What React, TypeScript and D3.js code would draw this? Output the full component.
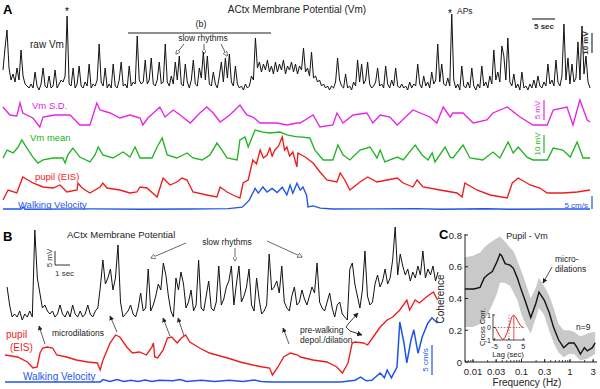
import * as d3 from 'd3';

const FONT = 'Liberation Sans, Arial, sans-serif';

// ---------- Panel A (about 128 s of recording) ----------
const durA = 127.6;
// raw Vm, mV above rest, evenly sampled over durA
const rawVmA = [
  11, 22, 31, 12, 6, 9, 5, 12, 6, 21,
  8, 4, 3, 2, 4, 2, 10, 3, 1, 4,
  12, 3, 2, 8, 2, 3, 11, 2, 4, 6,
  5, 8, 38, 4, 3, 12, 2, 4, 13, 3,
  2, 5, 3, 14, 2, 4, 3, 6, 24, 5,
  3, 12, 2, 4, 2, 14, 3, 2, 6, 15,
  3, 4, 2, 13, 3, 5, 4, 28, 6, 4,
  5, 16, 4, 6, 17, 4, 3, 6, 15, 4,
  5, 24, 5, 3, 8, 4, 15, 6, 18, 4,
  3, 14, 5, 2, 6, 16, 4, 3, 12, 7,
  20, 6, 18, 4, 3, 10, 4, 2, 8, 15,
  5, 17, 7, 19, 5, 3, 13, 4, 2, 3,
  1, 4, 2, 3, 8, 6, 27, 12, 15, 10,
  14, 11, 16, 10, 13, 9, 15, 10, 14, 11,
  16, 9, 13, 11, 15, 10, 14, 9, 13, 11,
  22, 10, 12, 8, 20, 7, 8, 5, 6, 3,
  4, 2, 3, 1, 3, 2, 5, 17, 6, 3,
  2, 9, 2, 3, 1, 5, 3, 16, 5, 14,
  4, 6, 15, 4, 2, 3, 5, 12, 3, 4,
  2, 13, 4, 2, 6, 3, 12, 3, 2, 4,
  2, 3, 1, 5, 2, 4, 3, 14, 4, 2,
  8, 3, 5, 2, 10, 4, 6, 24, 5, 14,
  4, 3, 7, 3, 39, 6, 2, 4, 1, 13,
  3, 2, 5, 2, 12, 3, 1, 4, 2, 13,
  3, 5, 2, 8, 4, 21, 6, 10, 5, 23,
  18, 6, 27, 5, 3, 9, 2, 4, 1, 10,
  2, 3, 1, 4, 2, 6, 2, 8, 3, 2,
  5, 3, 14, 4, 6, 3, 16, 5, 3, 8,
  34, 6, 17, 4, 14, 5, 7, 25, 6, 33,
  9, 18, 5, 2,
];

// [sec, mV]
const vmSdA: [number, number][] = [
  [0, 5.25], [1.5, 3.25], [3, 3], [3.7, 6.25], [4.3, 3.75], [6.5, 2.5], [8, 0.25], [8.7, 2.75],
  [11.3, 3.25], [14.6, 3.25], [16.7, 0.75], [18.9, 0.75], [20.4, 6.25], [21.1, 4.5], [23.3, 3.75],
  [25.4, 2.5], [27.6, 3.25], [29.8, 2.5], [30.4, 0.75], [31.5, 2.5], [34.1, 5.25], [35.2, 2.75],
  [37, 4.5], [38.5, 3.25], [40.7, 1.25], [42.8, 3.75], [44.3, 5.25], [45.7, 3.75], [47.2, 1.5],
  [49.3, 3.25], [51.5, 5.75], [53, 3.25], [54.3, 2.75], [55.9, 1.25], [59.6, 1.25], [61.7, 0.75],
  [63.9, 1.25], [64.6, 1.25], [67.4, 3.25], [68.9, 0.25], [71.7, 0.75], [72.6, 3.75], [73.9, 1.25],
  [76.1, 3.25], [79.1, 3.75], [80.4, 1.25], [82, 3.25], [84.1, 2.75], [85.7, 0.75], [89.1, 4.5],
  [92.8, 2.75], [94.3, 1.25], [95.7, 5.25], [97.2, 2.75], [97.8, 3.75], [100, 3.75], [102.2, 1.25],
  [105.2, 2], [106.5, 3.75], [109.6, 5.25], [112.4, 2.75], [115.2, 0.75], [118.3, 0.75], [119.6, 4.5],
  [122.6, 5.25], [123.9, 0.75], [125.4, 7], [127, 2], [127.6, 1.5],
];

// [sec, mV]
const vmMeanA: [number, number][] = [
  [0, 3.9], [0.9, 8.3], [2.2, 6.7], [3.3, 10], [4.1, 13.9], [5.2, 9.4], [6.5, 4.4], [7.6, 1.1],
  [8.7, 2.8], [10.9, 3.9], [13, 3.9], [13.5, 1.1], [14.1, 5.6], [15.2, 9.4], [16.7, 4.4], [18.9, 1.7],
  [20, 5.6], [20.7, 10], [21.7, 5.6], [23.9, 3.9], [26.1, 7.2], [27.6, 4.4], [28.7, 10], [29.8, 3.9],
  [32.4, 3.9], [33.5, 10], [34.6, 15], [35.7, 5.6], [37.8, 3.9], [40, 6.7], [41.3, 3.9], [43.3, 2.8],
  [45, 5.6], [46.5, 12.2], [47.6, 8.3], [48.7, 3.9], [50.9, 2.8], [51.5, 13.9], [52.6, 15.6],
  [53.3, 10], [54.8, 19.4], [56.5, 18.3], [58, 17.8], [60.2, 18.3], [61.7, 16.7], [63.9, 15.6],
  [64.6, 15.6], [66.7, 15], [67.8, 8.3], [69.6, 2.8], [71.7, 2.8], [72.8, 11.1], [73.9, 5.6],
  [75.4, 2.8], [77.6, 8.3], [79.8, 10], [81.3, 3.9], [82, 8.3], [83, 1.7], [85.7, 4.4], [87, 2.8],
  [89.6, 11.1], [91.1, 5.6], [92.4, 2.8], [93.3, 6.7], [93.9, 1.7], [96.1, 10], [97.2, 4.4],
  [97.8, 3.9], [100, 11.1], [101.5, 3.9], [104.3, 2.8], [106.5, 7.2], [108, 3.9], [109.8, 12.8],
  [110.9, 6.7], [112, 10], [113.9, 4.4], [115.2, 2.8], [118.3, 2.8], [119.6, 9.4], [121.7, 8.3],
  [123.3, 4.4], [124.8, 12.8], [126.1, 3.9], [127.6, 3.9],
];

// [sec, % change]
const pupilA: [number, number][] = [
  [0, 0], [1.1, 5], [3, 3.5], [4.3, 11.5], [5.4, 10], [6.5, 8.5], [8.7, 6.5], [10.9, 6], [12.4, 7.5],
  [13.9, 4], [16.1, 5], [16.3, 8.5], [17.2, 6], [18.9, 3.5], [21.1, 6.5], [21.7, 8.5], [22.6, 6],
  [25.4, 5], [27.6, 3.5], [29.1, 4], [29.8, 6.5], [31.3, 6], [33.5, 1.5], [34.8, 11], [36.3, 7.5],
  [37.8, 9], [38.9, 11], [40, 10], [41.3, 4], [44.3, 2.5], [46.5, 1.5], [47.2, 6.5], [48.7, 4],
  [50, 2.5], [51.5, 1], [52.2, 8.5], [53.3, 10], [54.3, 20], [55.1, 18], [55.9, 25], [56.6, 21],
  [57.4, 22.5], [58, 26], [58.5, 22], [59.1, 25], [59.9, 27], [60.7, 31.5], [61.2, 25], [61.7, 26.5],
  [62.3, 22], [63, 24], [63.9, 16.5], [64.1, 23.5], [65.7, 21.5], [67.4, 18.5], [68.9, 14], [70.4, 10],
  [72.6, 9], [73.3, 13.5], [74.3, 10], [75.4, 5], [77.6, 9], [79.3, 11.5], [81.3, 9], [83.5, 10],
  [85.7, 11], [87, 8.5], [89.1, 6.5], [90, 10], [91.3, 6.5], [95, 5], [98.7, 3.5], [99.8, 1.5],
  [100.4, 8.5], [103, 5], [105.9, 2.5], [109.6, 1], [110.7, 8.5], [112, 11], [114.6, 7.5], [116.7, 6],
  [118.3, 3.5], [121.7, 3.5], [124.8, 4], [127.6, 5],
];

// [sec, cm/s]
const walkA: [number, number][] = [
  [0, 0.4], [4, 0.4], [4.3, 1.2], [4.8, 0.3], [20, 0.5], [30, 0.3], [40, 0.4], [49, 0.6], [52, 1.2],
  [53.5, 4], [54.8, 9], [55.5, 7], [56.5, 9.6], [57.4, 7.5], [58.5, 9], [59.6, 7.3], [60.7, 9.5],
  [61.7, 6.3], [62.4, 10.4], [63, 7], [63.9, 11.2], [64.6, 8.3], [65.2, 9.6], [66, 6.2], [66.3, 1.3],
  [67.4, 1.7], [69, 0.8], [71.7, 0.4], [80, 0.5], [90, 0.6], [95, 0.3], [105, 0.5], [110, 0.3],
  [120, 0.4], [127.6, 0.4],
];

// ---------- Panel B (about 31 s) ----------
const t0B = 0.15;
const dtB = 0.18;
// raw Vm, mV above rest, one sample every dtB seconds
const rawVmB = [
  11, 5, 1, 2, 1, 3, 0, 2, 1, 3,
  1, 30, 14, 9, 4, 5, 3, 2, 3, 1,
  2, 5, 2, 1, 3, 1, 5, 2, 1, 3,
  1, 2, 5, 2, 1, 3, 4, 11, 20, 12,
  14, 17, 10, 14, 25, 6, 1, 2, 3, 5,
  2, 1, 4, 9, 3, 4, 17, 3, 5, 8,
  12, 10, 19, 15, 8, 3, 1, 14, 10, 16,
  12, 4, 6, 10, 3, 5, 20, 4, 3, 8,
  13, 4, 3, 6, 18, 5, 7, 11, 13, 18,
  5, 12, 18, 6, 8, 11, 17, 5, 3, 14,
  7, 2, 3, 5, 22, 10, 11, 13, 9, 18,
  6, 4, 3, 8, 11, 5, 6, 10, 7, 5,
  8, 11, 9, 19, 6, 4, 3, 6, 9, 4,
  1, 5, 6, 2, 1, 0, 17, 19, 12, 8,
  4, 10, 23, 8, 5, 6, 12, 15, 11, 13,
  17, 12, 14, 20, 31, 15, 22, 18, 15, 17,
  13, 16, 14, 18, 15, 23, 14, 17, 15, 18,
  13, 16,
];

// [sec, % change]
const pupilB: [number, number][] = [
  [0, 10], [0.9, 9], [1.6, 6.5], [2, 3.5], [2.3, 4], [2.5, 11], [2.7, 13.5], [3, 14], [3.4, 13.5],
  [3.7, 10], [4.4, 9], [5.1, 7.5], [5.9, 6.5], [6.6, 6], [6.8, 2.5], [7, 7.5], [7.3, 12.5], [7.5, 16],
  [7.9, 20], [8.2, 19], [8.7, 14], [9.1, 11], [9.6, 11.5], [10.1, 10], [10.5, 14], [10.6, 16], [10.7, 9],
  [10.9, 8.5], [11.3, 12.5], [11.6, 18.5], [11.9, 19], [12.3, 16], [12.6, 18.5], [12.9, 20], [13.2, 16.5],
  [13.9, 13.5], [14.6, 11], [15.9, 8.5], [16.8, 6.5], [17.7, 5], [18.4, 4], [18.9, 3.5], [19.1, 0],
  [19.5, 4], [19.9, 9], [20.4, 11], [20.9, 10], [21.1, 9], [22, 7.5], [23, 6.5], [23.7, 4], [24.1, 1],
  [24.5, 6], [24.8, 16], [25, 16.5], [25.6, 16], [25.9, 15], [26.3, 19], [26.8, 24], [27.3, 27.5],
  [27.7, 29], [28.2, 32.5], [28.7, 37.5], [28.9, 32.5], [29.3, 37.5], [29.6, 36], [30.1, 39],
  [30.6, 41.5], [30.9, 37.5],
];

// [sec, cm/s]
const walkB: [number, number][] = [
  [0, 0], [6.8, 0], [7, 0.4], [7.5, 0.1], [8, 0.4], [8.5, 0.1], [9, 0.3], [9.5, 0.1], [10, 0.35],
  [10.5, 0.1], [11, 0.3], [12, 0.2], [12.5, 0.4], [13, 0.1], [14, 0.3], [15, 0.1], [16, 0.3], [17, 0.1],
  [17.8, 0.35], [18.3, 0.1], [19, 0], [24, 0], [25, 0.3], [25.4, 0.8], [25.8, 0.2], [26.2, 0.3],
  [26.8, 1.5], [27.1, 0.7], [27.3, 2], [27.6, 0.7], [28, 2.5], [28.2, 10], [28.5, 6.5], [28.7, 3.2],
  [29, 7], [29.2, 8.7], [29.5, 4.8], [29.8, 7.5], [30.2, 9.8], [30.5, 10.7], [30.9, 9.8],
];

// ---------- Panel C ----------
// [Hz, coherence]
const cohMean: [number, number][] = [
  [0.0068, 0.46], [0.0105, 0.46], [0.014, 0.47], [0.017, 0.53], [0.02, 0.55], [0.025, 0.57],
  [0.031, 0.63], [0.036, 0.68], [0.039, 0.67], [0.046, 0.62], [0.058, 0.61], [0.068, 0.59],
  [0.082, 0.53], [0.095, 0.47], [0.121, 0.38], [0.155, 0.28], [0.198, 0.37], [0.229, 0.44],
  [0.294, 0.39], [0.374, 0.31], [0.456, 0.22], [0.58, 0.14], [0.74, 0.09], [0.95, 0.12], [1.21, 0.12],
  [1.4, 0.09], [1.64, 0.05], [1.98, 0.09], [2.27, 0.07], [2.9, 0.09], [3.3, 0.12],
];
// [Hz, lower, upper]
const cohBand: [number, number, number][] = [
  [0.0068, 0.22, 0.66], [0.01, 0.22, 0.67], [0.014, 0.24, 0.69], [0.017, 0.26, 0.72], [0.02, 0.3, 0.74],
  [0.025, 0.36, 0.76], [0.031, 0.43, 0.78], [0.036, 0.5, 0.79], [0.045, 0.5, 0.76], [0.058, 0.48, 0.72],
  [0.068, 0.44, 0.7], [0.082, 0.39, 0.64], [0.1, 0.3, 0.57], [0.121, 0.24, 0.5], [0.155, 0.18, 0.4],
  [0.198, 0.28, 0.47], [0.229, 0.34, 0.53], [0.29, 0.3, 0.48], [0.37, 0.2, 0.42], [0.46, 0.12, 0.34],
  [0.58, 0.06, 0.24], [0.74, 0.03, 0.2], [0.95, 0.05, 0.2], [1.21, 0.05, 0.19], [1.64, 0.01, 0.16],
  [2.27, 0.02, 0.18], [3.3, 0.05, 0.19],
];
const freqTicks = [0.01, 0.03, 0.1, 0.3, 1, 3];
const cohTicks = [0, 0.2, 0.4, 0.6, 0.8];

// inset cross-correlation, [lag sec, r]
const xcorr: [number, number][] = [
  [-5, 0], [-4.5, -0.1], [-4, -0.35], [-3, -0.75], [-2.3, -0.95], [-1.5, -0.85], [-0.8, -0.5],
  [0, 0.05], [0.5, 0.5], [1, 0.85], [1.7, 0.98], [2.3, 0.85], [3, 0.55], [4, 0.15], [5, 0],
];
const lagTicks = [-5, 0, 5];
const xcTicks = [-1, 0, 1];
const peakLag = 1.7;

const BLACK = '#121212';
const MAGENTA = '#e524e5';
const GREEN = '#22b422';
const RED = '#ee1c1c';
const BLUE = '#1f55e8';
const LW = 1.35;

export default function App() {
  // panel A scales
  const xA = d3.scaleLinear().domain([0, durA]).range([3, 590]);
  const yRawA = d3.scaleLinear().domain([0, 10]).range([92, 72]);
  const ySdA = d3.scaleLinear().domain([0, 5]).range([128, 108]);
  const yMeanA = d3.scaleLinear().domain([0, 10]).range([165, 147]);
  const yPupA = d3.scaleLinear().domain([0, 10]).range([200, 180]);
  const yWalkA = d3.scaleLinear().domain([0, 5]).range([210, 198]);

  // panel B scales
  const xB = d3.scaleLinear().domain([0, 31]).range([5, 439]);
  const yRawB = d3.scaleLinear().domain([0, 5]).range([320, 305]);
  const yPupB = d3.scaleLinear().domain([0, 10]).range([375, 355]);
  const yWalkB = d3.scaleLinear().domain([0, 5]).range([382, 352]);

  // panel C scales
  const xC = d3.scaleLog().domain([0.00684, 3.6]).range([465, 597]);
  const yC = d3.scaleLinear().domain([0, 0.8]).range([362, 235]);
  const xIn = d3.scaleLinear().domain([-5.6, 5.6]).range([493, 525]);
  const yIn = d3.scaleLinear().domain([-1, 1]).range([340, 315]);

  const rawLineA = d3
    .line<number>()
    .x((_, i) => xA((i * durA) / (rawVmA.length - 1)))
    .y((d) => yRawA(d));
  const rawLineB = d3
    .line<number>()
    .x((_, i) => xB(t0B + i * dtB))
    .y((d) => yRawB(d));
  const pairLine = (
    xs: d3.ScaleContinuousNumeric<number, number>,
    ys: d3.ScaleContinuousNumeric<number, number>
  ) =>
    d3
      .line<[number, number]>()
      .x((d) => xs(d[0]))
      .y((d) => ys(d[1]));

  const band = d3
    .area<[number, number, number]>()
    .x((d) => xC(d[0]))
    .y0((d) => yC(d[1]))
    .y1((d) => yC(d[2]));

  const minorTicks = xC.ticks(20).filter((t) => t >= 0.007 && t <= 3.5);

  const txt = (props: any, s: string) => (
    <text fontFamily={FONT} {...props}>
      {s}
    </text>
  );

  return (
    <svg
      width={600}
      height={389}
      style={{ position: 'absolute', left: 0, top: 0, background: 'white' }}
    >
      <defs>
        <marker id="openHead" viewBox="0 0 10 10" refX="9" refY="5" markerWidth="6" markerHeight="6" orient="auto">
          <path d="M0,0 L10,5 L0,10 z" fill="white" stroke="#333" strokeWidth="1.3" />
        </marker>
        <marker id="solidHead" viewBox="0 0 10 10" refX="9" refY="5" markerWidth="6" markerHeight="6" orient="auto">
          <path d="M0,0 L10,5 L0,10 z" fill="#222" />
        </marker>
      </defs>

      {/* ===== Panel A ===== */}
      {txt({ x: 3, y: 14, fontSize: 13, fontWeight: 'bold' }, 'A')}
      {txt({ x: 297, y: 13, fontSize: 10, textAnchor: 'middle', fill: '#222' }, 'ACtx Membrane Potential (Vm)')}
      {txt({ x: 30, y: 48, fontSize: 10, fill: '#222' }, 'raw Vm')}
      {txt({ x: 67, y: 15, fontSize: 10, textAnchor: 'middle' }, '*')}
      {txt({ x: 448, y: 17, fontSize: 10 }, '*')}
      {txt({ x: 457, y: 14, fontSize: 8.5, fill: '#222' }, 'APs')}
      {txt({ x: 201, y: 27, fontSize: 9, textAnchor: 'middle', fill: '#222' }, '(b)')}
      <line x1={128} x2={271} y1={33} y2={33} stroke="#222" strokeWidth={1.2} />
      {txt({ x: 203, y: 41, fontSize: 8.5, textAnchor: 'middle', fill: '#222' }, 'slow rhythms')}
      <line x1={184} y1={44} x2={176} y2={54} stroke="#333" strokeWidth={0.8} markerEnd="url(#openHead)" />
      <line x1={204} y1={44} x2={204} y2={54} stroke="#333" strokeWidth={0.8} markerEnd="url(#openHead)" />
      <line x1={221} y1={44} x2={227} y2={56} stroke="#333" strokeWidth={0.8} markerEnd="url(#openHead)" />

      <path d={rawLineA(rawVmA) ?? ''} fill="none" stroke={BLACK} strokeWidth={1} />

      {/* scale bars A */}
      <line x1={532} x2={555} y1={19} y2={19} stroke="#333" strokeWidth={1.2} />
      {txt({ x: 544, y: 29, fontSize: 8, textAnchor: 'middle', fontWeight: 'bold', fill: '#333' }, '5 sec')}
      <line x1={592} x2={592} y1={33} y2={53} stroke="#333" strokeWidth={1.2} />
      {txt({ x: 0, y: 0, fontSize: 8, textAnchor: 'middle', fontWeight: 'bold', fill: '#333', transform: 'translate(588,43) rotate(-90)' }, '10 mV')}

      <path d={pairLine(xA, ySdA)(vmSdA) ?? ''} fill="none" stroke={MAGENTA} strokeWidth={LW} />
      {txt({ x: 32, y: 109, fontSize: 9.5, fill: MAGENTA }, 'Vm S.D.')}
      <line x1={544} x2={544} y1={100} y2={120} stroke={MAGENTA} strokeWidth={1.2} />
      {txt({ x: 0, y: 0, fontSize: 8, textAnchor: 'middle', fill: MAGENTA, transform: 'translate(540,110) rotate(-90)' }, '5 mV')}

      <path d={pairLine(xA, yMeanA)(vmMeanA) ?? ''} fill="none" stroke={GREEN} strokeWidth={LW} />
      {txt({ x: 30, y: 141, fontSize: 9.5, fill: GREEN }, 'Vm mean')}
      <line x1={544} x2={544} y1={135} y2={153} stroke={GREEN} strokeWidth={1.2} />
      {txt({ x: 0, y: 0, fontSize: 8, textAnchor: 'middle', fill: GREEN, transform: 'translate(540,144) rotate(-90)' }, '10 mV')}

      <path d={pairLine(xA, yPupA)(pupilA) ?? ''} fill="none" stroke={RED} strokeWidth={LW} />
      {txt({ x: 35, y: 180, fontSize: 9.5, fill: RED }, 'pupil (EIS)')}

      <path d={pairLine(xA, yWalkA)(walkA) ?? ''} fill="none" stroke={BLUE} strokeWidth={LW} />
      {txt({ x: 18, y: 208, fontSize: 9.5, fill: BLUE }, 'Walking Velocity')}
      <line x1={592} x2={592} y1={196} y2={209} stroke={BLUE} strokeWidth={1.2} />
      {txt({ x: 588, y: 208, fontSize: 8, textAnchor: 'end', fill: BLUE }, '5 cm/s')}

      {/* ===== Panel B ===== */}
      {txt({ x: 3, y: 241, fontSize: 13, fontWeight: 'bold' }, 'B')}
      {txt({ x: 67, y: 238, fontSize: 9.5, fill: '#222' }, 'ACtx Membrane Potential')}
      {txt({ x: 227, y: 245, fontSize: 8.5, textAnchor: 'middle', fill: '#222' }, 'slow rhythms')}
      <line x1={186} y1={243} x2={151} y2={258} stroke="#444" strokeWidth={0.8} markerEnd="url(#openHead)" />
      <line x1={235} y1={248} x2={235} y2={261} stroke="#444" strokeWidth={0.8} markerEnd="url(#openHead)" />
      <line x1={267} y1={241} x2={302} y2={257} stroke="#444" strokeWidth={0.8} markerEnd="url(#openHead)" />

      <line x1={55} x2={55} y1={251} y2={265} stroke="#333" strokeWidth={1} />
      <line x1={55} x2={70} y1={265} y2={265} stroke="#333" strokeWidth={1} />
      {txt({ x: 0, y: 0, fontSize: 8, textAnchor: 'middle', fill: '#333', transform: 'translate(52,258) rotate(-90)' }, '5 mV')}
      {txt({ x: 55, y: 276, fontSize: 8, fill: '#333' }, '1 sec')}

      <path d={rawLineB(rawVmB) ?? ''} fill="none" stroke={BLACK} strokeWidth={1} />

      {txt({ x: 52, y: 336, fontSize: 8.5, fill: '#222' }, 'microdilations')}
      <line x1={45} y1={344} x2={39} y2={326} stroke="#333" strokeWidth={0.8} markerEnd="url(#solidHead)" />
      <line x1={117} y1={332} x2={110} y2={316} stroke="#333" strokeWidth={0.8} markerEnd="url(#solidHead)" />
      <line x1={170} y1={336} x2={163} y2={318} stroke="#333" strokeWidth={0.8} markerEnd="url(#solidHead)" />
      <line x1={184} y1={336} x2={178} y2={318} stroke="#333" strokeWidth={0.8} markerEnd="url(#solidHead)" />
      <line x1={289} y1={344} x2={283} y2={328} stroke="#333" strokeWidth={0.8} markerEnd="url(#solidHead)" />

      <path d={pairLine(xB, yPupB)(pupilB) ?? ''} fill="none" stroke={RED} strokeWidth={LW} />
      {txt({ x: 6, y: 338, fontSize: 10, fill: RED }, 'pupil')}
      {txt({ x: 10, y: 351, fontSize: 10, fill: RED }, '(EIS)')}

      {txt({ x: 300, y: 333, fontSize: 8.5, fill: '#222' }, 'pre-walking')}
      {txt({ x: 300, y: 343, fontSize: 8.5, fill: '#222' }, 'depol./dilation')}
      <polyline points="349,323 346,327 350,331" fill="none" stroke="#222" strokeWidth={0.9} />
      <line x1={349} y1={323} x2={358} y2={313} stroke="#222" strokeWidth={0.9} markerEnd="url(#solidHead)" />
      <line x1={350} y1={331} x2={362} y2={335} stroke="#222" strokeWidth={0.9} markerEnd="url(#solidHead)" />

      <path d={pairLine(xB, yWalkB)(walkB) ?? ''} fill="none" stroke={BLUE} strokeWidth={1.5} />
      {txt({ x: 23, y: 380, fontSize: 10, fill: BLUE }, 'Walking Velocity')}
      <line x1={432} x2={432} y1={345} y2={375} stroke={BLUE} strokeWidth={1.2} />
      {txt({ x: 0, y: 0, fontSize: 8, textAnchor: 'middle', fill: BLUE, transform: 'translate(428,360) rotate(-90)' }, '5 cm/s')}

      {/* ===== Panel C ===== */}
      {txt({ x: 439, y: 239, fontSize: 13, fontWeight: 'bold' }, 'C')}
      {txt({ x: 527, y: 239, fontSize: 9, textAnchor: 'middle', fill: '#222' }, 'Pupil - Vm')}

      <path d={band(cohBand) ?? ''} fill="#c9c9c9" stroke="none" />
      <path d={pairLine(xC, yC)(cohMean) ?? ''} fill="none" stroke={BLACK} strokeWidth={1.4} />

      {/* axes */}
      <line x1={465} x2={465} y1={234} y2={362} stroke="#222" strokeWidth={1} />
      <line x1={465} x2={597} y1={362} y2={362} stroke="#222" strokeWidth={1} />
      {cohTicks.map((t) => (
        <g key={'cy' + t}>
          <line x1={465} x2={468} y1={yC(t)} y2={yC(t)} stroke="#222" />
          {txt({ x: 462, y: yC(t) + 3.5, fontSize: 9.5, textAnchor: 'end', fill: '#222' }, String(t))}
        </g>
      ))}
      {minorTicks.map((t, i) => (
        <line key={'mx' + i} x1={xC(t)} x2={xC(t)} y1={362} y2={360} stroke="#222" strokeWidth={0.8} />
      ))}
      {freqTicks.map((t) => (
        <g key={'cx' + t}>
          <line x1={xC(t)} x2={xC(t)} y1={362} y2={359} stroke="#222" />
          {txt({ x: xC(t), y: 375, fontSize: 9.5, textAnchor: 'middle', fill: '#222' }, String(t))}
        </g>
      ))}
      {txt({ x: 527, y: 386, fontSize: 10, textAnchor: 'middle', fill: '#222' }, 'Frequency (Hz)')}
      {txt({ x: 0, y: 0, fontSize: 10, textAnchor: 'middle', fill: '#222', transform: 'translate(444,299) rotate(-90)' }, 'Coherence')}

      {txt({ x: 555, y: 262, fontSize: 8.5, fill: '#222' }, 'micro-')}
      {txt({ x: 555, y: 272, fontSize: 8.5, fill: '#222' }, 'dilations')}
      <line x1={552} y1={267} x2={543} y2={283} stroke="#222" strokeWidth={0.8} markerEnd="url(#solidHead)" />
      {txt({ x: 576, y: 330, fontSize: 8.5, fill: '#222' }, 'n=9')}

      {/* inset cross-correlation */}
      <line x1={xIn(-5)} x2={xIn(5.6)} y1={yIn(0)} y2={yIn(0)} stroke="#555" strokeWidth={0.7} strokeDasharray="1.5,1.5" />
      <line x1={xIn(0)} x2={xIn(0)} y1={yIn(-1)} y2={yIn(1)} stroke="#555" strokeWidth={0.7} strokeDasharray="1.5,1.5" />
      <line x1={xIn(peakLag)} x2={xIn(peakLag)} y1={yIn(-1)} y2={yIn(0.98)} stroke={RED} strokeWidth={0.8} />
      <path d={pairLine(xIn, yIn)(xcorr) ?? ''} fill="none" stroke={RED} strokeWidth={1} />
      <line x1={493} x2={493} y1={yIn(1) - 1} y2={yIn(-1)} stroke="#222" strokeWidth={0.8} />
      <line x1={493} x2={525} y1={yIn(-1)} y2={yIn(-1)} stroke="#222" strokeWidth={0.8} />
      {xcTicks.map((t) => (
        <g key={'iy' + t}>
          <line x1={493} x2={495} y1={yIn(t)} y2={yIn(t)} stroke="#222" strokeWidth={0.8} />
          {txt({ x: 491, y: yIn(t) + 2.5, fontSize: 7, textAnchor: 'end', fill: '#222' }, String(t))}
        </g>
      ))}
      {lagTicks.map((t) => (
        <g key={'ix' + t}>
          <line x1={xIn(t)} x2={xIn(t)} y1={yIn(-1)} y2={yIn(-1) - 2} stroke="#222" strokeWidth={0.8} />
          {txt({ x: xIn(t), y: 348.5, fontSize: 7, textAnchor: 'middle', fill: '#222' }, String(t))}
        </g>
      ))}
      {txt({ x: 508, y: 357, fontSize: 7.5, textAnchor: 'middle', fill: '#222' }, 'Lag (sec)')}
      {txt({ x: 0, y: 0, fontSize: 7.5, textAnchor: 'middle', fill: '#222', transform: 'translate(485,327) rotate(-90)' }, 'Cross Corr.')}
    </svg>
  );
}
